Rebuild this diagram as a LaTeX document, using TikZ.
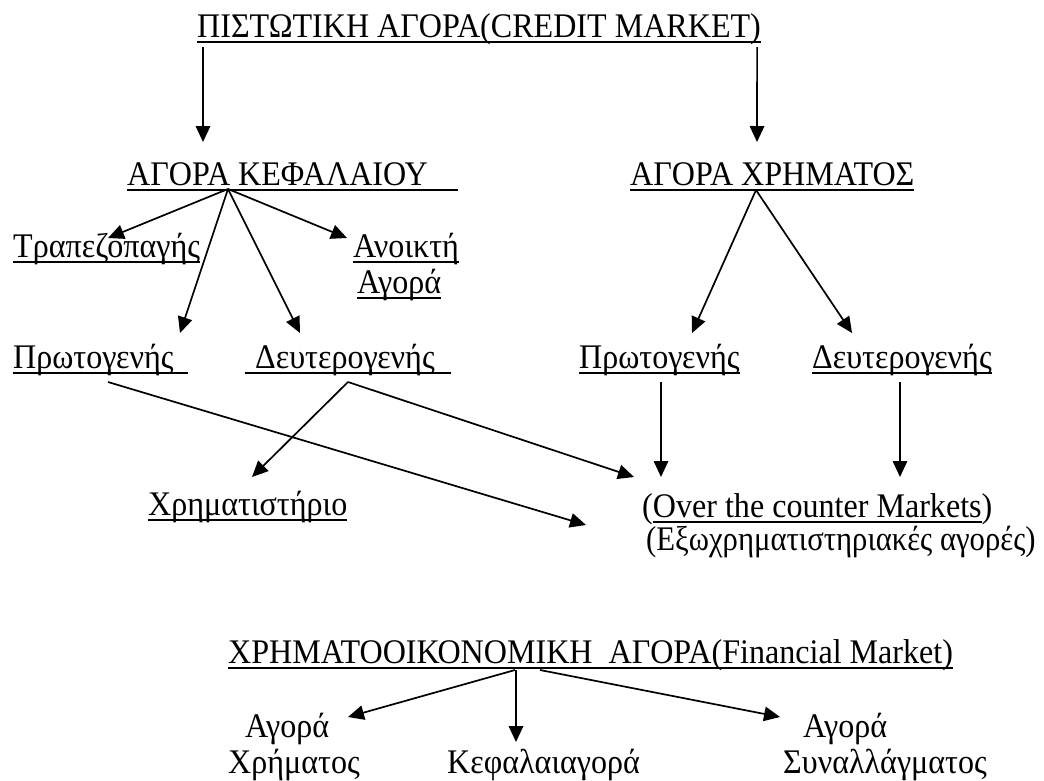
\documentclass[tikz,border=0pt]{standalone}
\usepackage{fontspec}
\setmainfont{Liberation Serif}[FakeStretch=0.93]
\newfontfamily\narrowfont{Liberation Serif}[FakeStretch=0.89]
\usetikzlibrary{arrows.meta}
\newlength\ulwd
\newcommand\myul[1]{\settowidth\ulwd{#1}\rlap{\rule[-5.8pt]{\ulwd}{1.6pt}}#1}
\begin{document}
\begin{tikzpicture}[x=1pt,y=-1pt,
  txt/.style={font=\fontsize{34.5}{40}\selectfont, inner sep=0pt, anchor=base west},
  arr/.style={line width=1.7pt, -{Triangle[length=16pt,width=14.5pt]}}]
\useasboundingbox (0,0) rectangle (1044,780);
% texts
\node[txt] (t1) at (197,37) {\myul{ΠΙΣΤΩΤΙΚΗ ΑΓΟΡΑ(CREDIT MARKET)}};
\node[txt] (kef) at (127,185) {\myul{ΑΓΟΡΑ ΚΕΦΑΛΑΙΟΥ\hspace{30pt}}};
\node[txt] (xrh) at (630,185) {\myul{ΑΓΟΡΑ ΧΡΗΜΑΤΟΣ}};
\node[txt] (trap) at (13,257) {\myul{Τραπεζοπαγής}};
\node[txt] (anoi1) at (353,257) {\myul{Ανοικτή}};
\node[txt] (anoi2) at (357,293) {\myul{Αγορά}};
\node[txt] (prl) at (13,368) {\myul{Πρωτογενής\hspace{14pt}}};
\node[txt] (del) at (245,368) {\myul{\hspace{10pt}Δευτερογενής\hspace{16pt}}};
\node[txt] (prr) at (579,368) {\myul{Πρωτογενής}};
\node[txt] (der) at (812,368) {\myul{Δευτερογενής}};
\node[txt] (xrim) at (148,515) {\myul{Χρηματιστήριο}};
\node[txt] (otc) at (642,517) {(\myul{Over the counter Markets})};
\node[txt, font=\narrowfont\fontsize{34.5}{40}\selectfont] (otc2) at (646,550) {(Εξωχρηματιστηριακές αγορές)};
\node[txt] (fin) at (228,663) {\myul{ΧΡΗΜΑΤΟΟΙΚΟΝΟΜΙΚΗ\ \ ΑΓΟΡΑ(Financial Market)}};
\node[txt] (ag1) at (245,737) {Αγορά};
\node[txt] (xrm) at (228,773) {Χρήματος};
\node[txt] (kefag) at (447,773) {Κεφαλαιαγορά};
\node[txt] (ag2) at (803,737) {Αγορά};
\node[txt] (syn) at (783,773) {Συναλλάγματος};
% connectors
\draw[arr] ([shift={(6,10)}]t1.base west) -- ([shift={(76,-43)}]kef.base west);
\draw[arr] ([shift={(-4,10)}]t1.base east) -- ([shift={(127,-43)}]xrh.base west);
\draw[arr] ([shift={(101,4)}]kef.base west) -- ([shift={(95,-19)}]trap.base west);
\draw[arr] ([shift={(101,4)}]kef.base west) -- ([shift={(-6,-19)}]anoi1.base west);
\draw[arr] ([shift={(101,4)}]kef.base west) -- ([shift={(167,-35)}]prl.base west);
\draw[arr] ([shift={(101,4)}]kef.base west) -- ([shift={(55,-35)}]del.base west);
\draw[arr] ([shift={(126,5)}]xrh.base west) -- ([shift={(113,-35)}]prr.base west);
\draw[arr] ([shift={(126,5)}]xrh.base west) -- ([shift={(40,-35)}]der.base west);
\draw[arr] ([shift={(95,14)}]prl.base west) -- ([shift={(-56,8)}]otc.base west);
\draw[arr] ([shift={(103,14)}]del.base west) -- ([shift={(104,-38)}]xrim.base west);
\draw[arr] ([shift={(103,14)}]del.base west) -- ([shift={(-8,-40)}]otc.base west);
\draw[arr] ([shift={(82,14)}]prr.base west) -- ([shift={(19,-40)}]otc.base west);
\draw[arr] ([shift={(88,14)}]der.base west) -- ([shift={(258,-40)}]otc.base west);
\draw[arr] ([shift={(287,7)}]fin.base west) -- ([shift={(103,-20)}]ag1.base west);
\draw[arr] ([shift={(288,7)}]fin.base west) -- ([shift={(69,-31)}]kefag.base west);
\draw[arr] ([shift={(312,7)}]fin.base west) -- ([shift={(-23,-20)}]ag2.base west);
\end{tikzpicture}
\end{document}
